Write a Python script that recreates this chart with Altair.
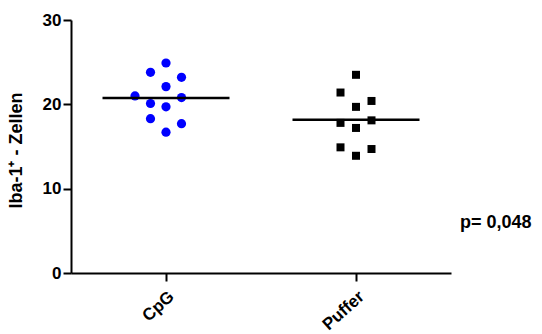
import altair as alt
import pandas as pd

# Data
groups = ["CpG", "Puffer"]
cpg_values = [24.9, 23.8, 23.2, 22.1, 21.0, 20.8, 20.1, 19.7, 18.3, 17.7, 16.7]
cpg_cols = [0, -1, 1, 0, -2, 1, -1, 0, -1, 1, 0]
puffer_values = [23.5, 21.4, 20.4, 19.7, 17.8, 18.1, 17.2, 14.9, 14.7, 13.9]
puffer_cols = [0, -1, 1, 0, -1, 1, 0, -1, 1, 0]
y_ticks = [0, 10, 20, 30]
p_label = "p= 0,048"

df = pd.DataFrame({
    "group": ["CpG"] * len(cpg_values) + ["Puffer"] * len(puffer_values),
    "value": cpg_values + puffer_values,
    "col": cpg_cols + puffer_cols,
})

FONT = "Liberation Sans"

x_enc = alt.X(
    "group:N",
    scale=alt.Scale(type="point", domain=groups, padding=0.5),
    axis=alt.Axis(title=None, labelAngle=-42, labelPadding=7, labelFontSize=17),
)
y_enc = alt.Y(
    "value:Q",
    scale=alt.Scale(domain=[0, 30], nice=False, zero=True),
    axis=alt.Axis(
        values=y_ticks,
        title="Iba-1⁺ - Zellen",
        titleFontSize=18,
        titleFontWeight="bold",
        titleAngle=-90,
        titleX=-55,
        titleY=130,
        titleAlign="center",
        titleBaseline="middle",
        labelPadding=2,
    ),
)

points = alt.Chart(df).mark_point(filled=True, opacity=1).encode(
    x=x_enc,
    y=y_enc,
    xOffset=alt.XOffset("col:Q", scale=alt.Scale(domain=[-2, 2], range=[-31, 31])),
    color=alt.Color("group:N", scale=alt.Scale(domain=groups, range=["#0000ff", "#000000"]), legend=None),
    shape=alt.Shape("group:N", scale=alt.Scale(domain=groups, range=["circle", "square"]), legend=None),
    size=alt.Size("group:N", scale=alt.Scale(domain=groups, range=[85, 64]), legend=None),
)

means = alt.Chart(df).mark_tick(color="black", size=127, thickness=2.5).encode(
    x=alt.X("group:N", scale=alt.Scale(type="point", domain=groups, padding=0.5)),
    y=alt.Y("mean(value):Q"),
)

ptext = alt.Chart(pd.DataFrame({"t": [p_label]})).mark_text(
    font=FONT, fontSize=18, fontWeight="bold", color="black",
    align="left", baseline="middle",
).encode(text="t:N", x=alt.value(389), y=alt.value(203))

chart = alt.layer(points, means, ptext).properties(
    width=380,
    height=253,
    background="white",
    autosize=alt.AutoSizeParams(type="none"),
    padding={"left": 71, "top": 20, "right": 91, "bottom": 61},
).configure_view(stroke=None).configure_axis(
    grid=False,
    domainColor="black",
    domainWidth=2,
    tickColor="black",
    tickWidth=2,
    tickSize=8,
    labelFont=FONT,
    titleFont=FONT,
    labelFontWeight="bold",
    labelFontSize=17,
    labelColor="black",
    titleColor="black",
)

chart.save("out.html", embed_options={"renderer": "svg", "actions": False})
